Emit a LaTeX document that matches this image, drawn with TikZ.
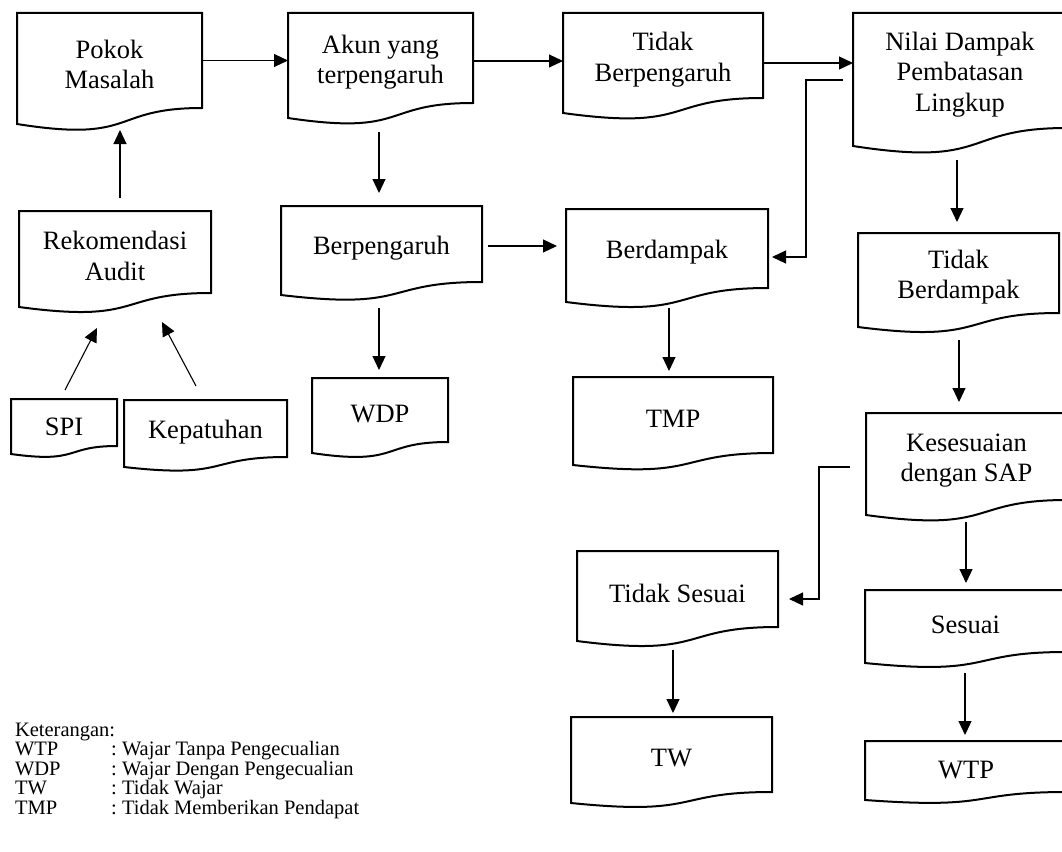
\documentclass[tikz,border=0pt]{standalone}
\usepackage{fontspec}
\setmainfont{Liberation Serif}
\usetikzlibrary{arrows.meta,calc}
\tikzset{
 docframe/.style={inner sep=0pt, outer sep=0pt},
 doctext/.style={inner sep=0pt, outer sep=0pt, align=center, font=\fontsize{26.5}{30.5}\selectfont},
 docline/.style={line width=2pt, line join=miter},
 arr/.style={line width=1.1pt, -{Triangle[length=14pt,width=13pt]}},
 legend/.style={inner sep=0pt, outer sep=0pt, anchor=base west, font=\fontsize{20.5}{20.5}\selectfont},
}
% name, cx, cy, width, height (top to right bottom), wave drop, text
\newcommand\docnode[7]{%
  \node[docframe, minimum width=#4pt, minimum height=#5pt] (#1) at (#2,#3) {};
  \node[doctext] (#1-t) at ($(#1)+(0,4)$) {#7};
  \draw[docline] (#1.north west) -- (#1.north east) -- (#1.south east)
    .. controls ($(#1.south west)+(0.5*#4,0)$) and ($(#1.south west)+(0.65*#4,2.2*#6)$)
    .. ($(#1.south west)+(0,#6)$) -- cycle;
}
\begin{document}
\begin{tikzpicture}[x=1pt,y=-1pt]
\useasboundingbox (0,0) rectangle (1062,851);

\docnode{pm}{109.5}{60.5}{185}{95}{16}{Pokok\\Masalah}
\docnode{akun}{380.5}{58}{185}{90}{15}{Akun yang\\terpengaruh}
\docnode{tb}{663}{55.5}{200}{85}{15}{Tidak\\Berpengaruh}
\docnode{nilai}{960}{70.5}{214}{115}{18}{Nilai Dampak\\Pembatasan\\Lingkup}
\docnode{rek}{115}{252}{192}{82}{14}{Rekomendasi\\Audit}
\docnode{berp}{381.5}{244}{201}{76}{13}{Berpengaruh}
\docnode{berd}{667}{248.5}{202}{79}{14}{Berdampak}
\docnode{tbd}{958.5}{273}{201}{80}{14}{Tidak\\Berdampak}
\docnode{spi}{64}{422.5}{106}{47}{8}{SPI}
\docnode{kep}{205.5}{428.5}{163}{57}{10}{Kepatuhan}
\docnode{wdp}{380}{410}{136}{64}{11}{WDP}
\docnode{tmp}{673}{415}{200}{76}{12}{TMP}
\docnode{kes}{966.5}{456.5}{201}{87}{15}{Kesesuaian\\dengan SAP}
\docnode{ts}{677.5}{589}{201}{76}{14}{Tidak Sesuai}
\docnode{ses}{965.5}{621}{201}{62}{11}{Sesuai}
\docnode{tw}{671.5}{754.5}{201}{75}{11}{TW}
\docnode{wtp}{966}{766.5}{202}{51}{8}{WTP}

\draw[arr] (pm.east) -- (pm.east -| akun.west);
\draw[arr] ($(akun.east)+(0,3)$) -- ($(akun.east -| tb.west)+(0,3)$);
\draw[arr] ($(tb.east)+(0,7.5)$) -- ($(tb.east -| nilai.west)+(0,7.5)$);
\draw[arr] ($(nilai.west)+(-10,9.5)$) -| ($(berd.east)+(38,8.5)$) -- ($(berd.east)+(4,8.5)$);
\draw[arr] ($(akun.south)+(-1.5,29)$) -- ($(berp.north)+(-2.5,-13)$);
\draw[arr] ($(berp.south)+(-2.5,26)$) -- ($(wdp.north)+(-1,-8)$);
\draw[arr] ($(berp.east)+(6,2)$) -- ($(berd.west)+(-9,-2.5)$);
\draw[arr] ($(berd.south)+(2,20)$) -- ($(tmp.north)+(-4,-6)$);
\draw[arr] ($(nilai.south)+(-3,32)$) -- ($(tbd.north)+(-1.5,-11)$);
\draw[arr] ($(tbd.south)+(0.5,27)$) -- ($(kes.north)+(-7.5,-11)$);
\draw[arr] ($(kes.west)+(-16,10.5)$) -| ($(ts.east)+(41,10)$) -- ($(ts.east)+(11,10)$);
\draw[arr] ($(kes.south)+(-0.5,22)$) -- ($(ses.north)+(0.5,-7)$);
\draw[arr] ($(ts.south)+(-4.5,23)$) -- ($(tw.north)+(1.5,-4)$);
\draw[arr] ($(ses.south)+(-0.5,21)$) -- ($(wtp.north)+(-1,-6)$);
\draw[arr] ($(rek.north)+(5,-13)$) -- ($(pm.south)+(10.5,22)$);
\draw[arr] ($(spi.north)+(1,-9)$) -- ($(rek.south)+(-18,35)$);
\draw[arr] ($(kep.north)+(-9.5,-14)$) -- ($(rek.south)+(47,29)$);

\node[legend] (k0) at (15,736) {Keterangan:};
\node[legend] (k1) at (15,755.5) {WTP};
\node[legend] (k1c) at (111,755.5) {:};
\node[legend] (k1d) at (122,755.5) {Wajar Tanpa Pengecualian};
\node[legend] (k2) at (15,775) {WDP};
\node[legend] (k2c) at (111,775) {:};
\node[legend] (k2d) at (122,775) {Wajar Dengan Pengecualian};
\node[legend] (k3) at (15,794.5) {TW};
\node[legend] (k3c) at (111,794.5) {:};
\node[legend] (k3d) at (122,794.5) {Tidak Wajar};
\node[legend] (k4) at (15,814) {TMP};
\node[legend] (k4c) at (111,814) {:};
\node[legend] (k4d) at (122,814) {Tidak Memberikan Pendapat};
\end{tikzpicture}
\end{document}
